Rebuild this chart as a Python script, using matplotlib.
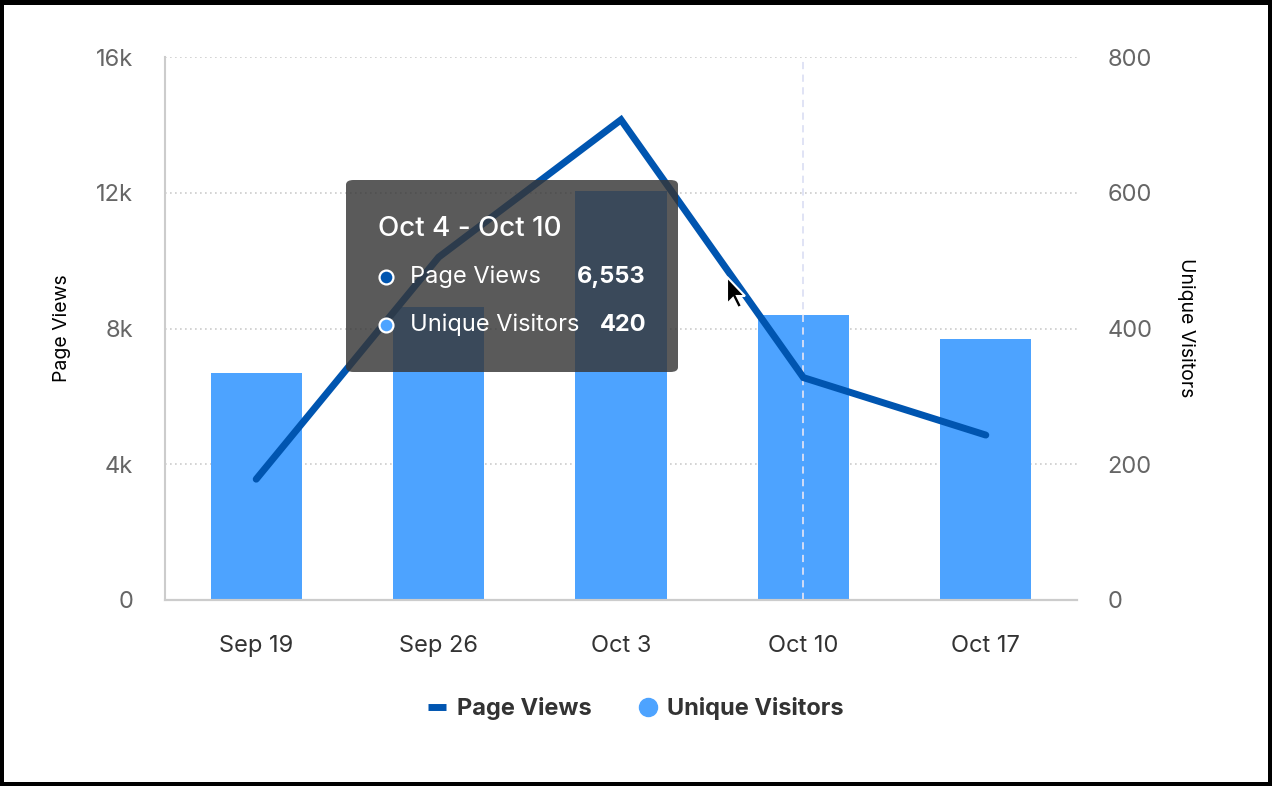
import matplotlib
matplotlib.use("Agg")
import matplotlib.pyplot as plt
from matplotlib.patches import FancyBboxPatch, Rectangle, Polygon
from matplotlib.lines import Line2D
from matplotlib.ticker import FuncFormatter

categories = ["Sep 19", "Sep 26", "Oct 3", "Oct 10", "Oct 17"]
page_views = [3560, 10100, 14150, 6553, 4860]
unique_visitors = [334, 431, 602, 420, 384]
left_ticks = [0, 4000, 8000, 12000, 16000]
right_ticks = [0, 200, 400, 600, 800]
hover_index = 3
tooltip_title = "Oct 4 - Oct 10"
tooltip_rows = [("Page Views", "6,553"), ("Unique Visitors", "420")]

LINE_C = "#0055b0"
BAR_C = "#4da3ff"
FONT = ["Inter", "DejaVu Sans"]
plt.rcParams["font.family"] = FONT

W, H = 1272, 786
fig = plt.figure(figsize=(W / 100, H / 100), dpi=100)
fig.patch.set_facecolor("black")
fig.add_artist(Rectangle((4 / W, 4 / H), (W - 8) / W, (H - 9) / H,
                         transform=fig.transFigure, facecolor="white",
                         edgecolor="none", zorder=-10))

def px(x, y):
    return (x / W, 1 - y / H)

left, right, top, bottom = 165, 1077, 57, 600
ax2 = fig.add_axes([left / W, 1 - bottom / H, (right - left) / W, (bottom - top) / H])
ax = ax2.twinx()
ax.yaxis.tick_left()
ax.yaxis.set_label_position("left")
ax2.yaxis.tick_right()
ax2.yaxis.set_label_position("right")
ax.set_zorder(ax2.get_zorder() + 1)
ax.patch.set_visible(False)

x = list(range(len(categories)))
ax2.bar(x, unique_visitors, width=0.5, color=BAR_C, zorder=2)
ax2.axvline(hover_index, color="#dde1f4", lw=1.3, ls=(0, (4, 3)), zorder=3)
ax.plot(x, page_views, color=LINE_C, lw=5, solid_capstyle="round",
        solid_joinstyle="miter", zorder=4)

ax2.set_xlim(-0.5, len(categories) - 0.5)
ax2.set_ylim(0, 800)
ax.set_ylim(0, 16000)
ax2.set_yticks(right_ticks)
ax.set_yticks(left_ticks)
ax.yaxis.set_major_formatter(FuncFormatter(lambda v, p: "0" if v == 0 else f"{int(v/1000)}k"))
ax2.set_xticks(x)
ax2.set_xticklabels(categories)

ax2.set_axisbelow(True)
ax2.grid(axis="y", color="#cccccc", ls=(0, (1, 2)), lw=1.2, zorder=0)
ax2.grid(axis="x", visible=False)

for a in (ax, ax2):
    for s in ("top", "right"):
        a.spines[s].set_visible(False)
    a.spines["left"].set_color("#cccccc")
    a.spines["bottom"].set_color("#cccccc")
    a.spines["left"].set_linewidth(1.5)
    a.spines["bottom"].set_linewidth(1.5)
ax.spines["left"].set_visible(True)
ax2.spines["left"].set_visible(False)

ax.tick_params(axis="y", length=0, pad=23, labelsize=17, labelcolor="#666666")
ax2.tick_params(axis="y", length=0, pad=22, labelsize=17, labelcolor="#666666")
ax2.tick_params(axis="x", length=0, pad=25, labelsize=17, labelcolor="#333333")
for lab in ax.get_yticklabels() + ax2.get_yticklabels() + ax2.get_xticklabels():
    lab.set_fontfamily(FONT)

fig.text(*px(62, 328), "Page Views", rotation=90, ha="center", va="center",
         fontsize=14, color="black")
fig.text(*px(1186, 328), "Unique Visitors", rotation=-90, ha="center", va="center",
         fontsize=14, color="black")

# legend
handles = [Line2D([0], [0], color=LINE_C, lw=5, solid_capstyle="butt"),
           Line2D([0], [0], marker="o", color="none", markerfacecolor=BAR_C,
                  markeredgecolor=BAR_C, markersize=13)]
leg = fig.legend(handles, ["Page Views", "Unique Visitors"], loc="center",
                 bbox_to_anchor=px(636, 709), ncol=2, frameon=False,
                 handlelength=0.75, handletextpad=0.45, columnspacing=2.0,
                 prop={"family": FONT, "weight": "bold", "size": 17})
for t in leg.get_texts():
    t.set_color("#333333")

# tooltip
tx0, ty0, tx1, ty1 = 346, 180, 678, 372
box = FancyBboxPatch(px(tx0, ty1), (tx1 - tx0) / W, (ty1 - ty0) / H,
                     boxstyle="round,pad=0,rounding_size=0.006",
                     transform=fig.transFigure, facecolor=(54/255, 54/255, 54/255, 0.82),
                     edgecolor="none", zorder=10)
fig.add_artist(box)
fig.text(*px(378, 229), tooltip_title, ha="left", va="center", fontsize=20,
         color="white", fontweight="medium", zorder=11)
dot_colors = [LINE_C, BAR_C]
for i, ((name, val), dc) in enumerate(zip(tooltip_rows, dot_colors)):
    yy = 277 + 48 * i
    fig.add_artist(Line2D([386 / W], [1 - yy / H], marker="o", markersize=10,
                          markerfacecolor=dc, markeredgecolor="white",
                          markeredgewidth=1.6, transform=fig.transFigure, zorder=11))
    fig.text(*px(410, yy), name, ha="left", va="center", fontsize=17,
             color="white", zorder=11)
    fig.text(*px(646, yy), val, ha="right", va="center", fontsize=17,
             color="white", fontweight="bold", zorder=11)

# mouse cursor
cx, cy = 727, 277
shape = [(0, 0), (0, 27), (6, 21), (11, 31), (15, 29), (10, 19), (18, 19)]
cur = Polygon([px(cx + a, cy + b) for a, b in shape], closed=True,
              transform=fig.transFigure, facecolor="black", edgecolor="white",
              lw=1.5, zorder=12)
fig.add_artist(cur)

fig.savefig("out.png", dpi=100, facecolor=fig.get_facecolor())
